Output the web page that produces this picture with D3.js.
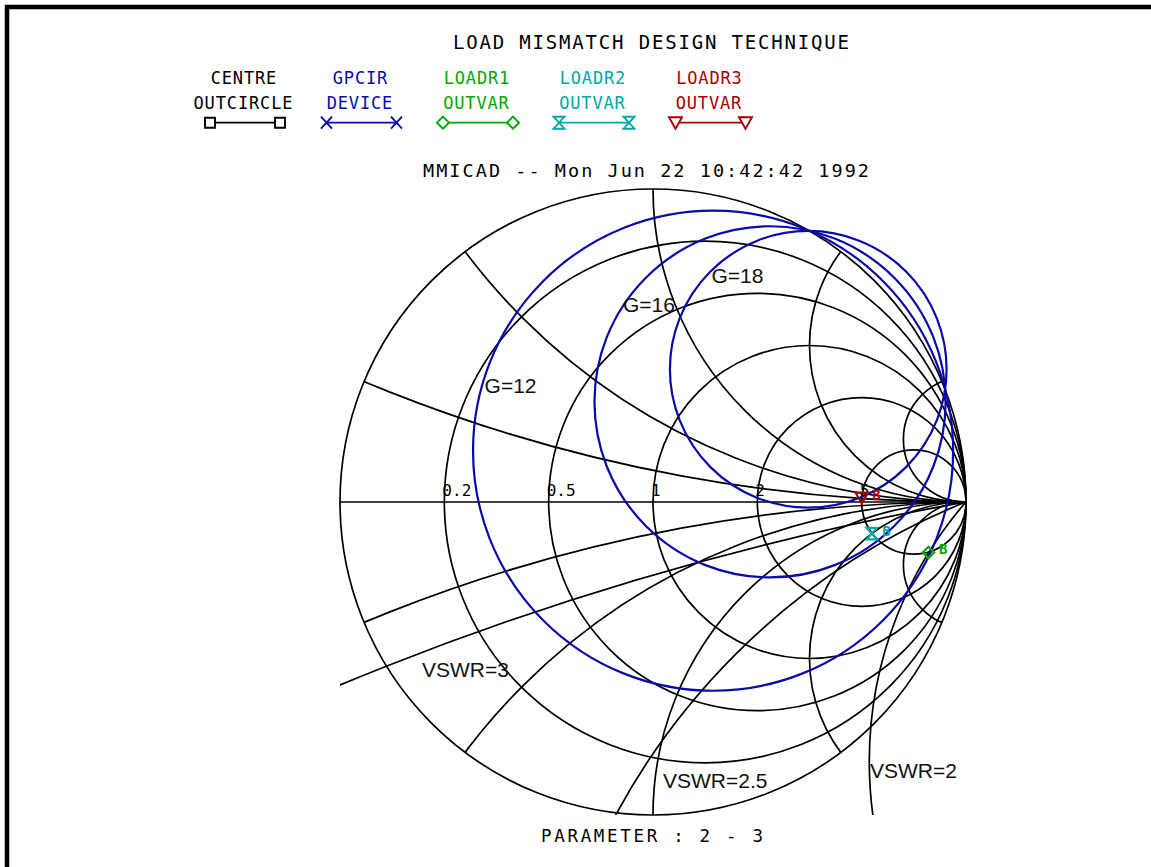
<!DOCTYPE html>
<html><head><meta charset="utf-8">
<script src="https://cdn.jsdelivr.net/npm/d3@7"></script>
<style>body{margin:0;background:#fff}svg{display:block}</style>
</head><body>
<svg id="c" width="1151" height="867"></svg>
<script>
// ---------- data ----------
const titleText = "LOAD MISMATCH DESIGN TECHNIQUE";
const subtitleText = "MMICAD -- Mon Jun 22 10:42:42 1992";
const footerText = "PARAMETER : 2 - 3";
const legendLine1 = ["CENTRE", "GPCIR", "LOADR1", "LOADR2", "LOADR3"];
const legendLine2 = ["OUTCIRCLE", "DEVICE", "OUTVAR", "OUTVAR", "OUTVAR"];
const legendSymbols = ["square", "cross", "diamond", "hourglass", "triangle"];
const seriesColors = ["#000000", "#0a0aa8", "#00a800", "#00a8a8", "#a80000"];

const resistanceValues = [0.2, 0.5, 1, 2, 5];
const resistanceLabels = ["0.2", "0.5", "1", "2", "5"];
const reactanceValues = [0.2, 0.5, 1, 2, 5, -0.2, -0.5, -1, -2, -5];

// constant gain circles (reflection-plane centre u, v and radius)
const gainLabels = ["G=12", "G=16", "G=18"];
const gainCentreU = [0.192, 0.374, 0.496];
const gainCentreV = [0.164, 0.320, 0.424];
const gainRadius = [0.767, 0.561, 0.442];

// VSWR loci (reflection-plane circles)
const vswrLabels = ["VSWR=3", "VSWR=2.5", "VSWR=2"];
const vswrCentreU = [2.679, 1.827, 1.958];
const vswrCentreV = [-9.456, -2.050, -0.829];
const vswrRadius = [9.604, 2.211, 1.267];

// load points LOADR1..3 (reflection coefficient)
const loadNames = ["LOADR1", "LOADR2", "LOADR3"];
const loadU = [0.880, 0.699, 0.667];
const loadV = [-0.161, -0.101, 0.013];
const loadTags = ["B", "B", "B"];

// ---------- drawing ----------
const svg = d3.select("#c");
const X = d3.scaleLinear().domain([-1, 1]).range([340, 966]);
const Y = d3.scaleLinear().domain([-1, 1]).range([815, 189]);
const R = r => X(r) - X(0);

// border
svg.append("path").attr("d", "M7,867V7H1151").attr("fill", "none")
  .attr("stroke", "#000").attr("stroke-width", 4.5);

const mono = "'DejaVu Sans Mono', monospace";
function monoText(str, x, y, size, len, anchor, color) {
  return svg.append("text").attr("x", x).attr("y", y)
    .attr("font-family", mono).attr("font-size", size)
    .attr("text-anchor", anchor || "start")
    .attr("textLength", len).attr("lengthAdjust", "spacing")
    .attr("fill", color || "#000").text(str);
}
monoText(titleText, 453, 49, 19, 396);
monoText(subtitleText, 423, 177, 18.5, 446);
monoText(footerText, 541, 842, 17.5, 222);

// legend
const legCx = [245, 361.5, 478, 594, 710.5];
const pitch = 11.2;
function sym(type, s) {
  s = s || 1;
  switch (type) {
    case "square": return `M${-5*s},${-5*s}h${10*s}v${10*s}h${-10*s}Z`;
    case "cross": return `M${-5.5*s},${-6*s}L${5.5*s},${6*s}M${-5.5*s},${6*s}L${5.5*s},${-6*s}`;
    case "diamond": return `M0,${-6*s}L${6*s},0L0,${6*s}L${-6*s},0Z`;
    case "hourglass": return `M${-5.5*s},${-6*s}L${5.5*s},${-6*s}L${-5.5*s},${6*s}L${5.5*s},${6*s}Z`;
    case "triangle": return `M${-6.5*s},${-5.5*s}L${6.5*s},${-5.5*s}L0,${6*s}Z`;
  }
}
legendLine1.forEach((t, i) => {
  const c = seriesColors[i];
  monoText(t, legCx[i] - 1.5, 84, 17, pitch * (t.length - 1) + 9.5, "middle", c);
  monoText(legendLine2[i], legCx[i] - 2, 109, 17, pitch * (legendLine2[i].length - 1) + 9.5, "middle", c);
  const x0 = legCx[i] - 35, x1 = legCx[i] + 35, y = 122.7;
  svg.append("line").attr("x1", x0).attr("x2", x1).attr("y1", y).attr("y2", y)
    .attr("stroke", c).attr("stroke-width", 1.8);
  [x0, x1].forEach(x => svg.append("path").attr("d", sym(legendSymbols[i]))
    .attr("transform", `translate(${x},${y})`).attr("fill", "#fff")
    .attr("stroke", c).attr("stroke-width", 1.9));
});

// clip paths
const defs = svg.append("defs");
defs.append("clipPath").attr("id", "unit").append("circle")
  .attr("cx", X(0)).attr("cy", Y(0)).attr("r", R(1));
defs.append("clipPath").attr("id", "box").append("rect")
  .attr("x", X(-1)).attr("y", Y(1)).attr("width", X(1) - X(-1)).attr("height", Y(-1) - Y(1));

const grid = svg.append("g").attr("fill", "none").attr("stroke", "#000").attr("stroke-width", 1.7);
// outer circle and real axis
grid.append("circle").attr("cx", X(0)).attr("cy", Y(0)).attr("r", R(1));
grid.append("line").attr("x1", X(-1)).attr("x2", X(1)).attr("y1", Y(0)).attr("y2", Y(0));
// constant resistance circles
grid.selectAll(".rc").data(resistanceValues).join("circle")
  .attr("cx", r => X(r / (1 + r))).attr("cy", Y(0)).attr("r", r => R(1 / (1 + r)));
// constant reactance arcs
const xg = grid.append("g").attr("clip-path", "url(#unit)");
xg.selectAll("circle").data(reactanceValues).join("circle")
  .attr("cx", X(1)).attr("cy", x => Y(1 / x)).attr("r", x => R(1 / Math.abs(x)));
// VSWR loci
const vg = grid.append("g").attr("clip-path", "url(#box)");
vg.selectAll("circle").data(vswrLabels).join("circle")
  .attr("cx", (d, i) => X(vswrCentreU[i])).attr("cy", (d, i) => Y(vswrCentreV[i]))
  .attr("r", (d, i) => R(vswrRadius[i]));

// resistance labels
resistanceLabels.forEach((t, i) => {
  const r = resistanceValues[i];
  const xl = X((r - 1) / (r + 1));
  svg.append("text").attr("x", xl - 2).attr("y", Y(0) - 6)
    .attr("font-family", mono).attr("font-size", 16)
    .attr("textLength", t.length > 1 ? 29 : null).attr("lengthAdjust", "spacing")
    .attr("fill", "#000").text(t);
});

// gain circles
svg.append("g").selectAll("circle").data(gainLabels).join("circle")
  .attr("cx", (d, i) => X(gainCentreU[i])).attr("cy", (d, i) => Y(gainCentreV[i]))
  .attr("r", (d, i) => R(gainRadius[i]))
  .attr("fill", "none").attr("stroke", seriesColors[1]).attr("stroke-width", 2.2);

// annotation labels
const sans = "'Liberation Sans', Arial, sans-serif";
const gainLabelPos = [[-0.538, 0.349], [-0.096, 0.607], [0.187, 0.700]];
gainLabels.forEach((t, i) => svg.append("text")
  .attr("x", X(gainLabelPos[i][0])).attr("y", Y(gainLabelPos[i][1]))
  .attr("font-family", sans).attr("font-size", 21).attr("fill", "#111").text(t));
const vswrLabelPos = [[-0.738, -0.559], [0.032, -0.914], [0.693, -0.882]];
vswrLabels.forEach((t, i) => svg.append("text")
  .attr("x", X(vswrLabelPos[i][0])).attr("y", Y(vswrLabelPos[i][1]))
  .attr("font-family", sans).attr("font-size", 21).attr("fill", "#111").text(t));

// load points
loadNames.forEach((n, i) => {
  const c = seriesColors[i + 2];
  const px = X(loadU[i]), py = Y(loadV[i]);
  svg.append("path").attr("d", sym(legendSymbols[i + 2], 0.95))
    .attr("transform", `translate(${px},${py})`).attr("fill", "none")
    .attr("stroke", c).attr("stroke-width", 2.2);
  svg.append("text").attr("x", px + 10.5).attr("y", py + 2)
    .attr("font-family", "'DejaVu Sans Mono', monospace").attr("font-weight", "bold")
    .attr("font-size", 14).attr("fill", c).text(loadTags[i]);
});
</script>
</body></html>
